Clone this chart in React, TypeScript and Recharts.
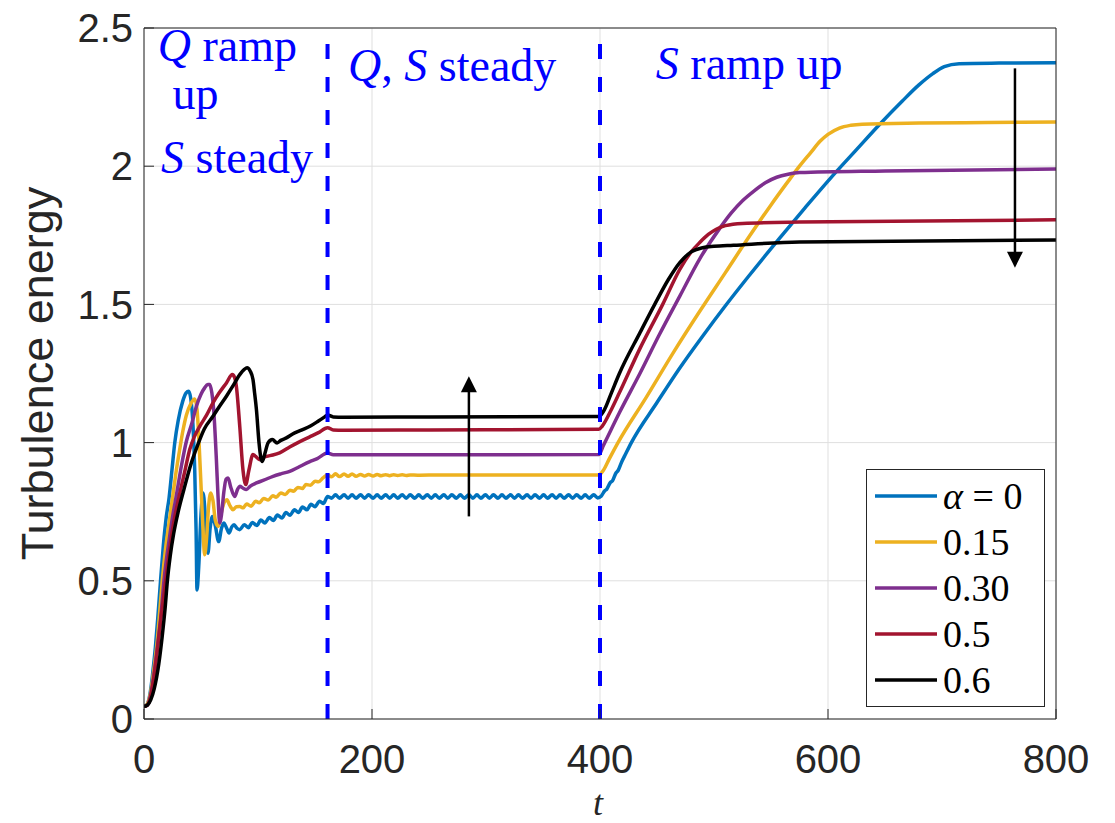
import React from 'react';
import {
  LineChart,
  Line,
  XAxis,
  YAxis,
  CartesianGrid,
  ReferenceLine,
  ReferenceDot,
  Legend,
} from 'recharts';

// t ticks / energy ticks
const tTicks = [0, 200, 400, 600, 800];
const eTicks = [0, 0.5, 1, 1.5, 2, 2.5];
// phase boundaries (dashed lines)
const phaseBounds = [161, 400];

const seriesNames = ['α = 0', '0.15', '0.30', '0.5', '0.6'];
const seriesColors = ['#0072BD', '#EDB120', '#7E2F8E', '#A2142F', '#000000'];

// [t, energy]
const alpha000 = [
  [0, 0.045], [3, 0.055], [6, 0.11], [8, 0.18], [10, 0.26], [12, 0.36], [14.5, 0.5], [17, 0.63],
  [19.5, 0.73], [22, 0.8], [24.5, 0.9], [27, 1.0], [30, 1.08], [34, 1.15], [37, 1.18], [39.2, 1.186],
  [41, 1.16], [43, 1.06], [44.5, 0.9], [45.7, 0.68], [46.5, 0.467], [48, 0.55], [50, 0.74], [51.8, 0.818],
  [53.5, 0.75], [55, 0.64], [56.1, 0.6], [58, 0.69], [60, 0.733], [62.5, 0.7], [65.5, 0.642], [68, 0.69],
  [70, 0.709], [72.5, 0.69], [74.6, 0.673], [77, 0.695], [79, 0.703], [81.5, 0.69], [84, 0.685],
  [88, 0.703], [91.5, 0.692], [95, 0.711], [99, 0.7], [102.5, 0.72], [106, 0.709], [110, 0.729],
  [113.5, 0.718], [117, 0.738], [121, 0.727], [124.5, 0.747], [128, 0.737], [132, 0.757], [135.5, 0.747],
  [139, 0.767], [143, 0.757], [146.5, 0.777], [150, 0.768], [154, 0.788], [157.5, 0.78], [161, 0.805],
  [164.5, 0.799], [168, 0.811], [171.5, 0.799], [175.5, 0.811], [179, 0.799], [182.5, 0.811],
  [186, 0.799], [190, 0.811], [193.5, 0.799], [197, 0.811], [201, 0.799], [204.5, 0.811], [208, 0.799],
  [212, 0.811], [215.5, 0.799], [219, 0.811], [222.5, 0.799], [226.5, 0.811], [230, 0.799],
  [233.5, 0.811], [237.5, 0.799], [241, 0.811], [244.5, 0.799], [248.5, 0.811], [252, 0.799],
  [255.5, 0.811], [259, 0.799], [263, 0.811], [266.5, 0.799], [270, 0.811], [274, 0.799], [277.5, 0.811],
  [281, 0.799], [285, 0.811], [288.5, 0.799], [292, 0.811], [295.5, 0.799], [299.5, 0.811], [303, 0.799],
  [306.5, 0.811], [310.5, 0.799], [314, 0.811], [317.5, 0.799], [321.5, 0.811], [325, 0.799],
  [328.5, 0.811], [332, 0.799], [336, 0.811], [339.5, 0.799], [343, 0.811], [347, 0.799], [350.5, 0.811],
  [354, 0.799], [358, 0.811], [361.5, 0.799], [365, 0.811], [368.5, 0.799], [372.5, 0.811], [376, 0.799],
  [379.5, 0.811], [383.5, 0.799], [387, 0.811], [390.5, 0.799], [394.5, 0.811], [398, 0.8],
  [401, 0.806], [404, 0.825], [406, 0.832], [409, 0.855], [411, 0.862], [414, 0.89], [416, 0.9],
  [419, 0.93], [422, 0.955], [427.5, 1.0], [450, 1.145], [470, 1.27], [490, 1.385], [510, 1.495],
  [530, 1.6], [557.6, 1.74], [580, 1.85], [604, 1.965], [625, 2.06], [645, 2.15], [665, 2.235],
  [680, 2.295], [692, 2.335], [702, 2.36], [715, 2.371], [750, 2.373], [800, 2.374],
];

const alpha015 = [
  [0, 0.045], [3, 0.055], [6, 0.1], [9, 0.19], [12, 0.3], [14, 0.4], [16, 0.5], [19, 0.62],
  [22, 0.71], [25, 0.8], [28, 0.89], [31.3, 0.975], [34, 1.04], [37.2, 1.1], [41, 1.14], [44.5, 1.158],
  [46.5, 1.12], [48.3, 0.999], [50.3, 0.818], [51.8, 0.68], [53.2, 0.594], [55, 0.66], [56.5, 0.76],
  [58.5, 0.818], [60.5, 0.79], [62.5, 0.72], [64.9, 0.697], [68, 0.75], [70.5, 0.785], [72.8, 0.793],
  [75, 0.775], [78, 0.757], [81, 0.768], [84, 0.769], [87, 0.764], [90, 0.778], [94, 0.77],
  [98, 0.788], [101, 0.782], [105, 0.798], [109, 0.792], [113, 0.808], [116, 0.802], [120, 0.818],
  [124, 0.812], [128, 0.828], [131, 0.824], [135, 0.838], [139, 0.834], [142, 0.848], [146, 0.846],
  [150, 0.86], [153, 0.858], [157, 0.872], [161, 0.884],
  [164.5, 0.876], [168, 0.887], [171.5, 0.877], [175.5, 0.886], [179, 0.878], [182.5, 0.886],
  [186, 0.878], [190, 0.885], [193.5, 0.879], [197, 0.885], [201, 0.879], [204.5, 0.885], [208, 0.88],
  [212, 0.884], [215.5, 0.88], [219, 0.884], [222.5, 0.881], [226.5, 0.884], [230, 0.881],
  [233.5, 0.883], [240, 0.882], [260, 0.883], [300, 0.883], [350, 0.883], [399, 0.883],
  [403, 0.9], [408, 0.94], [415.8, 1.0], [440, 1.16], [465, 1.33], [487.5, 1.475], [510, 1.615],
  [530, 1.74], [550, 1.86], [565, 1.945], [575, 2.0], [585, 2.05], [593, 2.09], [600, 2.115],
  [610, 2.138], [620, 2.148], [630, 2.152], [680, 2.156], [740, 2.158], [800, 2.16],
];

const alpha030 = [
  [0, 0.045], [3, 0.05], [6, 0.09], [9, 0.17], [12, 0.27], [15, 0.38], [17.5, 0.5], [22.5, 0.66],
  [25, 0.73], [28, 0.8], [33, 0.92], [37.2, 1.005], [42, 1.07], [46, 1.132], [50, 1.175], [53.2, 1.198],
  [56, 1.21], [57.6, 1.21], [59.5, 1.18], [61.1, 1.12], [63.5, 0.938], [65, 0.8], [66.4, 0.709],
  [68, 0.74], [70, 0.82], [72, 0.868], [73.7, 0.872], [76, 0.84], [79.6, 0.805], [82, 0.83], [84, 0.842],
  [87, 0.835], [89.8, 0.83], [93, 0.842], [98.6, 0.854], [105, 0.864], [113.2, 0.878], [120, 0.887],
  [127.8, 0.896], [135, 0.91], [145, 0.93], [152, 0.942], [161, 0.962], [166, 0.956], [175, 0.956],
  [250, 0.956], [399, 0.957],
  [403, 0.99], [417, 1.108], [435, 1.25], [452, 1.39], [470, 1.53], [487.5, 1.665], [505, 1.775],
  [515, 1.83], [525, 1.875], [535, 1.91], [545, 1.94], [555, 1.96], [565, 1.971], [575, 1.977],
  [650, 1.983], [800, 1.99],
];

const alpha050 = [
  [0, 0.045], [3, 0.05], [6, 0.085], [9, 0.16], [12, 0.26], [15, 0.37], [17.5, 0.45], [19, 0.5],
  [22, 0.6], [26, 0.71], [30.5, 0.8], [36, 0.9], [40.1, 0.975], [44, 1.02], [48.9, 1.059], [55, 1.1],
  [60.5, 1.144], [66, 1.18], [72.3, 1.216], [77.5, 1.246], [79.5, 1.235], [81, 1.204], [84, 1.059],
  [86.8, 0.902], [89.2, 0.848], [92, 0.9], [95.6, 0.957], [98, 0.95], [101.5, 0.938], [104, 0.945],
  [107.4, 0.95], [113, 0.955], [119, 0.963], [127.8, 0.984], [135, 1.0], [145, 1.02], [153, 1.036],
  [161, 1.054], [166, 1.046], [175, 1.045], [250, 1.046], [399, 1.048],
  [402, 1.06], [410, 1.12], [417, 1.18], [435, 1.34], [455, 1.5], [470, 1.627], [480, 1.69],
  [487.5, 1.724], [495, 1.753], [502, 1.772], [510, 1.785], [525, 1.793], [575, 1.798], [800, 1.806],
];

const alpha060 = [
  [0, 0.045], [3, 0.05], [6, 0.07], [9, 0.11], [13, 0.2], [16, 0.3], [18.5, 0.4], [20.5, 0.5],
  [23, 0.59], [26, 0.67], [30, 0.75], [35, 0.83], [41, 0.92], [47, 0.99], [53, 1.05], [60.5, 1.095],
  [66, 1.13], [72.3, 1.168], [78, 1.205], [84, 1.246], [88, 1.265], [90.4, 1.271], [93, 1.26],
  [95.6, 1.228], [97, 1.18], [98.6, 1.12], [100.9, 0.999], [102.5, 0.945], [103.8, 0.932], [106, 0.96],
  [108.8, 0.999], [112.6, 1.011], [116.7, 0.999], [120, 1.008], [124.9, 1.017], [130, 1.03],
  [138, 1.045], [146, 1.06], [153, 1.078], [158.5, 1.093], [161, 1.1], [166, 1.093], [175, 1.092],
  [250, 1.093], [399, 1.094],
  [404, 1.12], [410, 1.18], [417, 1.25], [435, 1.397], [448, 1.5], [460, 1.59], [470, 1.651],
  [480, 1.69], [490, 1.705], [500, 1.71], [517, 1.714], [575, 1.726], [800, 1.733],
];

const allSeries = [alpha000, alpha015, alpha030, alpha050, alpha060];

const toRows = (pts: number[][]) => pts.map(([t, e]) => ({ t, e }));

const axisColor = '#262626';
const sansFont = "'Liberation Sans', Arial, Helvetica, sans-serif";
const serifFont = "'Liberation Serif', 'Times New Roman', serif";

// phase notes: [text pieces (italic flag)], anchor in data coords
const notes: { t: number; e: number; parts: [string, boolean][] }[] = [
  { t: 12, e: 2.381, parts: [['Q', true], [' ramp', false]] },
  { t: 25, e: 2.207, parts: [['up', false]] },
  { t: 15, e: 1.977, parts: [['S', true], [' steady', false]] },
  { t: 179, e: 2.309, parts: [['Q', true], [', ', false], ['S', true], [' steady', false]] },
  { t: 449, e: 2.315, parts: [['S', true], [' ramp up', false]] },
];

const NoteText = (props: any) => {
  const { cx, cy, parts } = props;
  return (
    <text x={cx} y={cy} fill="#0000ff" fontSize={46} fontFamily={serifFont}>
      {parts.map(([s, it]: [string, boolean], i: number) => (
        <tspan key={i} fontStyle={it ? 'italic' : 'normal'}>{s}</tspan>
      ))}
    </text>
  );
};

const ArrowHead = (props: any) => {
  const { cx, cy, dir } = props;
  const b = cy + (dir === 'up' ? 16 : -16);
  return <polygon points={`${cx},${cy} ${cx - 8},${b} ${cx + 8},${b}`} fill="#000" />;
};

const YLabel = (props: any) => {
  const { viewBox } = props;
  const cy = viewBox.y + viewBox.height / 2;
  const x = viewBox.x + 53;
  return (
    <text x={x} y={cy} transform={`rotate(-90, ${x}, ${cy})`} textAnchor="middle" fill={axisColor}
      fontSize={45} fontFamily={sansFont}>
      Turbulence energy
    </text>
  );
};

const XLabel = (props: any) => {
  const { viewBox } = props;
  const x = viewBox.x + viewBox.width / 2;
  return (
    <text x={x - 2} y={viewBox.y + 96} textAnchor="middle" fill={axisColor} fontSize={36}
      fontFamily={serifFont} fontStyle="italic">
      t
    </text>
  );
};

const LegendBox = () => (
  <div style={{
    width: 179, height: 238, boxSizing: 'border-box', border: `1px solid ${axisColor}`,
    background: '#fff', padding: '3px 0 0 8px', fontFamily: serifFont, fontSize: 38, color: '#000',
  }}>
    {seriesNames.map((n, i) => (
      <div key={n} style={{ display: 'flex', alignItems: 'center', height: 46 }}>
        <svg width={62} height={6}>
          <line x1={0} y1={3} x2={62} y2={3} stroke={seriesColors[i]} strokeWidth={3.5} />
        </svg>
        <span style={{ marginLeft: 6, lineHeight: '46px', whiteSpace: 'pre' }}>
          {i === 0 ? <><i>α</i>{' = 0'}</> : n}
        </span>
      </div>
    ))}
  </div>
);

const App: React.FC = () => {
  return (
    <div style={{ position: 'absolute', left: 0, top: 0, width: 1115, height: 823, background: '#fff' }}>
      <LineChart width={1115} height={823} margin={{ top: 27, right: 58, bottom: 0, left: 0 }}>
        <CartesianGrid stroke="#dfdfdf" strokeWidth={1} />
        <XAxis
          dataKey="t"
          type="number"
          domain={[0, 800]}
          ticks={tTicks}
          allowDataOverflow
          height={104}
          tickSize={-10}
          tickMargin={36}
          stroke={axisColor}
          tick={{ fill: axisColor, fontSize: 40, fontFamily: sansFont }}
          label={XLabel}
        />
        <XAxis
          xAxisId="top"
          orientation="top"
          type="number"
          domain={[0, 800]}
          ticks={tTicks}
          allowDataOverflow
          height={1}
          tick={false}
          tickSize={-10}
          stroke={axisColor}
        />
        <YAxis
          type="number"
          domain={[0, 2.5]}
          ticks={eTicks}
          allowDataOverflow
          width={144}
          tickSize={-10}
          tickMargin={21}
          stroke={axisColor}
          tick={{ fill: axisColor, fontSize: 40, fontFamily: sansFont }}
          label={YLabel}
        />
        <YAxis
          yAxisId="right"
          orientation="right"
          type="number"
          domain={[0, 2.5]}
          ticks={eTicks}
          allowDataOverflow
          width={1}
          tick={false}
          tickSize={-10}
          stroke={axisColor}
        />
        {allSeries.map((s, i) => (
          <Line
            key={seriesNames[i]}
            data={toRows(s)}
            dataKey="e"
            name={seriesNames[i]}
            type="monotone"
            stroke={seriesColors[i]}
            strokeWidth={3.5}
            dot={false}
            activeDot={false}
            isAnimationActive={false}
          />
        ))}
        {phaseBounds.map((b) => (
          <ReferenceLine key={b} x={b} stroke="#0000ff" strokeWidth={4} strokeDasharray="15 18" />
        ))}
        <ReferenceLine segment={[{ x: 285, y: 0.733 }, { x: 285, y: 1.2 }]} stroke="#000" strokeWidth={2.5} />
        <ReferenceDot x={285} y={1.24} r={0} shape={(p: any) => <ArrowHead {...p} dir="up" />} />
        <ReferenceLine segment={[{ x: 764, y: 2.354 }, { x: 764, y: 1.68 }]} stroke="#000" strokeWidth={2.5} />
        <ReferenceDot x={764} y={1.633} r={0} shape={(p: any) => <ArrowHead {...p} dir="down" />} />
        {notes.map((n, i) => (
          <ReferenceDot key={i} x={n.t} y={n.e} r={0} shape={(p: any) => <NoteText {...p} parts={n.parts} />} />
        ))}
        <Legend
          verticalAlign="middle"
          align="center"
          layout="horizontal"
          content={LegendBox}
          wrapperStyle={{ position: 'absolute', left: 866, top: 469, width: 'auto' }}
        />
      </LineChart>
    </div>
  );
};

export default App;
